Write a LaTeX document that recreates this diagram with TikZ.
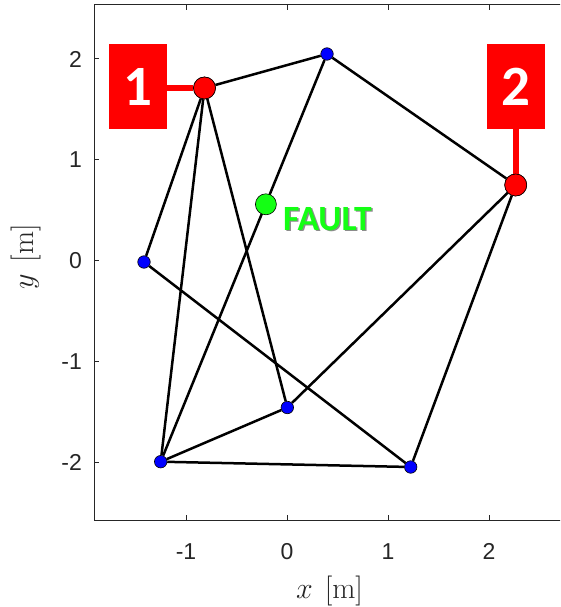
\RequirePackage{fix-cm}
\documentclass[tikz,border=0pt]{standalone}
\usepackage{fontspec}
\newfontfamily\tickfont{Liberation Sans}
\newfontfamily\boxfont{Carlito}
\usetikzlibrary{backgrounds}
\definecolor{axgray}{HTML}{262626}
\definecolor{faultgreen}{RGB}{20,255,20}
\begin{document}
\begin{tikzpicture}[x=1pt,y=-1pt,
  edge/.style={line width=2.5pt, black},
  axisline/.style={axgray, line width=1pt},
  ticklab/.style={inner sep=0pt, text=axgray, font=\tickfont\fontsize{23}{23}\selectfont},
  axlab/.style={inner sep=0pt, text=axgray, font=\fontsize{30}{30}\selectfont},
  bluenode/.style={circle, fill=blue, draw=black, line width=0.6pt, minimum size=12.5pt, inner sep=0pt},
  rednode/.style={circle, fill=red, draw=black, line width=0.6pt, minimum size=22pt, inner sep=0pt},
  greennode/.style={circle, fill=faultgreen, draw=black, line width=0.6pt, minimum size=21pt, inner sep=0pt},
  labelbox/.style={fill=red, minimum width=58pt, minimum height=85pt, inner sep=0pt, text=white,
    font=\boxfont\bfseries\fontsize{57}{57}\selectfont},
  redlink/.style={red, line width=6pt},
  faulttext/.style={inner sep=0pt, anchor=base west, font=\boxfont\bfseries\fontsize{35.5}{35.5}\selectfont}
]
\useasboundingbox (0,0) rectangle (560,607);

% graph nodes
\node[bluenode] (t)  at (327,54) {};
\node[bluenode] (l)  at (144,262) {};
\node[bluenode] (m)  at (287.3,407.5) {};
\node[bluenode] (bl) at (160.7,461.7) {};
\node[bluenode] (br) at (410.7,467) {};
\node[greennode] (f) at (265.9,204.3) {};
\node[rednode] (n1) at (204.5,88) {};
\node[rednode] (n2) at (515.7,185) {};

\begin{pgfonlayer}{background}
  % axes
  \begin{scope}
    \clip (0,0) rectangle (560,607);
    \draw[axisline] (94,5) rectangle (565,520);
    \foreach \xx in {186,287,388,489} {
      \draw[axisline] (\xx,520) -- (\xx,515);
      \draw[axisline] (\xx,5) -- (\xx,10);
    }
    \foreach \yy in {59,159.7,260.5,361.3,462.1} {
      \draw[axisline] (94,\yy) -- (99,\yy);
    }
  \end{scope}
  % edges
  \draw[edge] (n1) -- (t);
  \draw[edge] (t) -- (n2);
  \draw[edge] (t) -- (bl);
  \draw[edge] (n1) -- (l);
  \draw[edge] (n1) -- (bl);
  \draw[edge] (n1) -- (m);
  \draw[edge] (l) -- (br);
  \draw[edge] (n2) -- (m);
  \draw[edge] (n2) -- (br);
  \draw[edge] (bl) -- (m);
  \draw[edge] (bl) -- (br);
\end{pgfonlayer}

% tick labels
\node[ticklab, anchor=base] (xm1) at (186,559.5) {-1};
\node[ticklab, anchor=base] (x0) at (287,559.5) {0};
\node[ticklab, anchor=base] (x1) at (388,559.5) {1};
\node[ticklab, anchor=base] (x2) at (489,559.5) {2};
\node[ticklab, anchor=east] (y2) at (82,59) {2};
\node[ticklab, anchor=east] (y1) at (82,159.7) {1};
\node[ticklab, anchor=east] (y0) at (82,260.5) {0};
\node[ticklab, anchor=east] (ym1) at (82,361.3) {-1};
\node[ticklab, anchor=east] (ym2) at (82,462.1) {-2};

% axis labels
\node[axlab, anchor=base] (xlab) at (329.5,598) {$x$\hspace{0.4em}[m]};
\node[axlab, anchor=base, rotate=90] (ylab) at (33,257) {$y$\hspace{0.4em}[m]};

% sensor boxes
\node[labelbox] (b1) at (138,86.5) {1};
\node[labelbox] (b2) at (515.7,86.7) {2};
\draw[redlink] (b1.east |- n1) -- (n1);
\draw[redlink] (b2.south) -- (n2);
\node[rednode] (n1top) at (n1) {};
\node[rednode] (n2top) at (n2) {};

% fault label
\node[faulttext, text=black!45] (fshadow) at (284.5,231.5) {FAULT};
\node[faulttext, text=faultgreen] (ftext) at (283,230) {FAULT};
\end{tikzpicture}
\end{document}
